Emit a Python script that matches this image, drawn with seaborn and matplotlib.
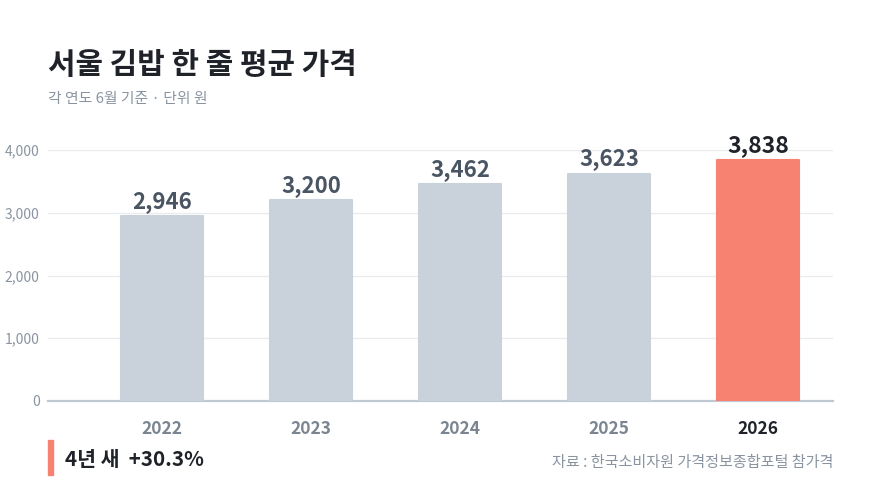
import matplotlib.pyplot as plt
import pandas as pd
import seaborn as sns

# data
years = ["2022", "2023", "2024", "2025", "2026"]
prices = [2946, 3200, 3462, 3623, 3838]
yticks = [0, 1000, 2000, 3000, 4000]

gray = "#c9d2da"
hot = "#f78272"
colors = [gray, gray, gray, gray, hot]

sns.set_style("white")
plt.rcParams['font.family'] = ['Noto Sans CJK KR', 'DejaVu Sans']

df = pd.DataFrame({"year": years, "price": prices})

fig = plt.figure(figsize=(8.8, 5), dpi=100)
ax = fig.add_axes([0.0545, 0.198, 0.892, 0.502])

sns.barplot(data=df, x="year", y="price", hue="year", palette=colors,
            saturation=1, legend=False, width=0.555, ax=ax, zorder=3)

# slightly rounded corners via a same-colour stroke
for bar, c in zip(ax.patches, colors):
    bar.set_edgecolor(c)
    bar.set_linewidth(1.5)
    bar.set_joinstyle("round")

ax.set_xlim(-0.765, 4.503)
ax.set_ylim(0, 4000)
ax.set_yticks(yticks)
ax.set_yticklabels([f"{v:,}" for v in yticks])
ax.yaxis.grid(True, color="#e9ebef", linewidth=0.9, zorder=0)
ax.tick_params(axis="both", length=0)
ax.tick_params(axis="y", labelsize=10, labelcolor="#8a94a0", pad=6)
ax.tick_params(axis="x", labelsize=12.5, pad=14)
ax.set_xlabel("")
ax.set_ylabel("")

for lbl, y in zip(ax.get_xticklabels(), years):
    lbl.set_fontweight("bold")
    lbl.set_color("#1f2329" if y == "2026" else "#7a8591")

for spine in ["top", "right", "left"]:
    ax.spines[spine].set_visible(False)
ax.spines["bottom"].set_color("#c0c9d2")
ax.spines["bottom"].set_linewidth(1.6)

# value labels
for i, v in enumerate(prices):
    last = i == len(prices) - 1
    ax.text(i, v + 50, f"{v:,}", ha="center", va="bottom",
            fontsize=16.5 if last else 16, fontweight="bold",
            color="#1f2329" if last else "#4a5563", clip_on=False, zorder=4)

# title
fig.text(48 / 880, 1 - 65 / 500, "서울 김밥 한 줄 평균 가격", fontsize=21.5,
         fontweight="heavy", color="#1f2329", va="center", ha="left")
fig.text(48 / 880, 1 - 99 / 500, "각 연도 6월 기준 · 단위 원", fontsize=10.7,
         color="#8a94a0", va="center", ha="left")

# footer
fig.patches.append(plt.Rectangle((48 / 880, 1 - 475 / 500), 5 / 880, 35 / 500,
                                 transform=fig.transFigure, color=hot))
fig.text(65 / 880, 1 - 460 / 500, "4년 새  +30.3%", fontsize=14.8,
         fontweight="bold", color="#1f2329", va="center", ha="left")
fig.text(833 / 880, 1 - 463 / 500, "자료 : 한국소비자원 가격정보종합포털 참가격",
         fontsize=10.9, color="#8a94a0", va="center", ha="right")

fig.savefig("out.png", dpi=100)
